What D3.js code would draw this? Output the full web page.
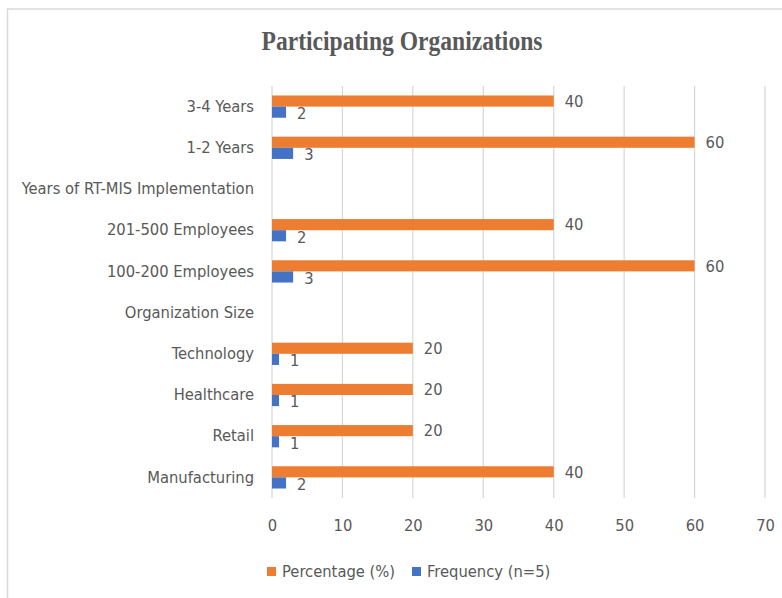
<!DOCTYPE html>
<html>
<head>
<meta charset="utf-8">
<script src="https://cdn.jsdelivr.net/npm/d3@7"></script>
<style>
  body { margin: 0; background: #fff; }
  text { fill: #595959; }
</style>
</head>
<body>
<svg width="782" height="598"></svg>
<script>
// categories top to bottom, as shown
var categories = ["3-4 Years", "1-2 Years", "Years of RT-MIS Implementation",
    "201-500 Employees", "100-200 Employees", "Organization Size",
    "Technology", "Healthcare", "Retail", "Manufacturing"];
var percentage = [40, 60, null, 40, 60, null, 20, 20, 20, 40];
var frequency = [2, 3, null, 2, 3, null, 1, 1, 1, 2];
var xTicks = [0, 10, 20, 30, 40, 50, 60, 70];
var seriesNames = ["Percentage (%)", "Frequency (n=5)"];
var seriesColors = ["#ED7D31", "#4472C4"];

var svg = d3.select("svg"),
    labelFont = "'Liberation Sans Narrow', 'DejaVu Sans Condensed', sans-serif",
    fs = 16.4;

// chart border
svg.append("rect")
    .attr("x", 7.5).attr("y", 9)
    .attr("width", 820).attr("height", 620)
    .attr("fill", "none")
    .attr("stroke", "#d9d9d9")
    .attr("stroke-width", 1.5);

svg.append("text")
    .attr("x", 402).attr("y", 50)
    .attr("text-anchor", "middle")
    .attr("font-family", "'Liberation Serif', serif")
    .attr("font-weight", "bold")
    .attr("font-size", 27)
    .attr("textLength", 281)
    .attr("lengthAdjust", "spacingAndGlyphs")
    .style("fill", "#595959")
    .text("Participating Organizations");

var x = d3.scaleLinear().domain([0, 70]).range([272, 765]);
var y = d3.scaleBand().domain(categories).range([86, 498]).padding(0);
var barH = y.bandwidth() * 0.27;

// gridlines
svg.append("g").selectAll("line")
    .data(xTicks).enter().append("line")
    .attr("x1", function (d) { return x(d); })
    .attr("x2", function (d) { return x(d); })
    .attr("y1", 86).attr("y2", 498)
    .attr("stroke", "#d9d9d9")
    .attr("stroke-width", 1.3);

// x tick labels
var xAxis = d3.axisBottom(x).tickValues(xTicks).tickSize(0).tickPadding(0);
var gx = svg.append("g").attr("transform", "translate(0,519)").call(xAxis);
gx.select(".domain").remove();
gx.selectAll("text")
    .attr("font-family", labelFont)
    .attr("font-size", fs)
    .style("fill", "#595959");

// category labels
var yAxis = d3.axisLeft(y).tickSize(0).tickPadding(0);
var gy = svg.append("g").attr("transform", "translate(254,0)").call(yAxis);
gy.select(".domain").remove();
gy.selectAll("text")
    .attr("font-family", labelFont)
    .attr("font-size", fs)
    .style("fill", "#595959");

var rows = categories.map(function (c, i) {
    return { cat: c, vals: [percentage[i], frequency[i]] };
});

var row = svg.append("g").selectAll("g")
    .data(rows).enter().append("g")
    .attr("transform", function (d) { return "translate(0," + (y(d.cat) + y.bandwidth() / 2) + ")"; });

var bars = row.selectAll("g")
    .data(function (d) {
        return d.vals.map(function (v, k) { return { v: v, k: k }; })
            .filter(function (e) { return e.v != null; });
    })
    .enter().append("g");

bars.append("rect")
    .attr("x", x(0))
    .attr("y", function (d) { return d.k == 0 ? -barH : 0; })
    .attr("width", function (d) { return x(d.v) - x(0); })
    .attr("height", barH)
    .attr("fill", function (d) { return seriesColors[d.k]; });

bars.append("text")
    .attr("x", function (d) { return x(d.v) + 11; })
    .attr("y", function (d) { return d.k == 0 ? -barH / 2 : barH / 2 + 1; })
    .attr("dy", "0.35em")
    .attr("font-family", labelFont)
    .attr("font-size", fs)
    .text(function (d) { return d.v; });

// legend
var legendX = [267, 412];
var lg = svg.append("g").selectAll("g")
    .data(seriesNames).enter().append("g")
    .attr("transform", function (d, i) { return "translate(" + legendX[i] + ",567)"; });
lg.append("rect")
    .attr("width", 9).attr("height", 9)
    .attr("fill", function (d, i) { return seriesColors[i]; });
lg.append("text")
    .attr("x", 15).attr("y", 4.5)
    .attr("dy", "0.35em")
    .attr("font-family", labelFont)
    .attr("font-size", fs)
    .text(function (d) { return d; });
</script>
</body>
</html>
